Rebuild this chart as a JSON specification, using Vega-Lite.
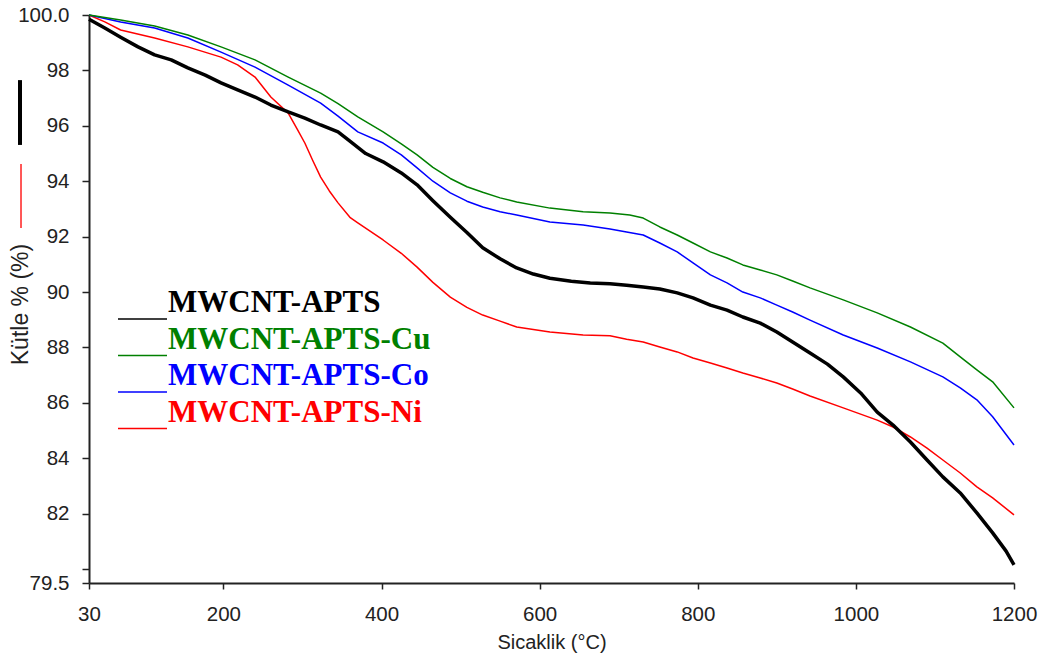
{
  "$schema": "https://vega.github.io/schema/vega-lite/v6.json",
  "width": 925,
  "height": 568,
  "autosize": "none",
  "padding": {"left": 89, "top": 15, "right": 29, "bottom": 76},
  "background": "white",
  "config": {"view": {"stroke": null}},
  "layer": [
    {
      "data": {"values": [
        {"T":30,"M":100.0,"s":"MWCNT-APTS-Ni"},{"T":50,"M":99.75,"s":"MWCNT-APTS-Ni"},{"T":70,"M":99.46,"s":"MWCNT-APTS-Ni"},{"T":113,"M":99.17,"s":"MWCNT-APTS-Ni"},{"T":155,"M":98.85,"s":"MWCNT-APTS-Ni"},{"T":197,"M":98.48,"s":"MWCNT-APTS-Ni"},{"T":218,"M":98.2,"s":"MWCNT-APTS-Ni"},{"T":240,"M":97.76,"s":"MWCNT-APTS-Ni"},{"T":260,"M":97.04,"s":"MWCNT-APTS-Ni"},{"T":282,"M":96.46,"s":"MWCNT-APTS-Ni"},{"T":293,"M":95.9,"s":"MWCNT-APTS-Ni"},{"T":303,"M":95.38,"s":"MWCNT-APTS-Ni"},{"T":313,"M":94.75,"s":"MWCNT-APTS-Ni"},{"T":323,"M":94.15,"s":"MWCNT-APTS-Ni"},{"T":334,"M":93.65,"s":"MWCNT-APTS-Ni"},{"T":345,"M":93.22,"s":"MWCNT-APTS-Ni"},{"T":360,"M":92.7,"s":"MWCNT-APTS-Ni"},{"T":370,"M":92.5,"s":"MWCNT-APTS-Ni"},{"T":402,"M":91.88,"s":"MWCNT-APTS-Ni"},{"T":425,"M":91.4,"s":"MWCNT-APTS-Ni"},{"T":445,"M":90.9,"s":"MWCNT-APTS-Ni"},{"T":465,"M":90.35,"s":"MWCNT-APTS-Ni"},{"T":487,"M":89.82,"s":"MWCNT-APTS-Ni"},{"T":508,"M":89.45,"s":"MWCNT-APTS-Ni"},{"T":528,"M":89.17,"s":"MWCNT-APTS-Ni"},{"T":550,"M":88.95,"s":"MWCNT-APTS-Ni"},{"T":571,"M":88.74,"s":"MWCNT-APTS-Ni"},{"T":613,"M":88.56,"s":"MWCNT-APTS-Ni"},{"T":655,"M":88.45,"s":"MWCNT-APTS-Ni"},{"T":689,"M":88.42,"s":"MWCNT-APTS-Ni"},{"T":710,"M":88.3,"s":"MWCNT-APTS-Ni"},{"T":731,"M":88.2,"s":"MWCNT-APTS-Ni"},{"T":752,"M":88.02,"s":"MWCNT-APTS-Ni"},{"T":774,"M":87.84,"s":"MWCNT-APTS-Ni"},{"T":794,"M":87.62,"s":"MWCNT-APTS-Ni"},{"T":816,"M":87.44,"s":"MWCNT-APTS-Ni"},{"T":837,"M":87.26,"s":"MWCNT-APTS-Ni"},{"T":857,"M":87.08,"s":"MWCNT-APTS-Ni"},{"T":879,"M":86.9,"s":"MWCNT-APTS-Ni"},{"T":900,"M":86.72,"s":"MWCNT-APTS-Ni"},{"T":920,"M":86.5,"s":"MWCNT-APTS-Ni"},{"T":942,"M":86.25,"s":"MWCNT-APTS-Ni"},{"T":984,"M":85.82,"s":"MWCNT-APTS-Ni"},{"T":1027,"M":85.38,"s":"MWCNT-APTS-Ni"},{"T":1047,"M":85.13,"s":"MWCNT-APTS-Ni"},{"T":1069,"M":84.77,"s":"MWCNT-APTS-Ni"},{"T":1090,"M":84.37,"s":"MWCNT-APTS-Ni"},{"T":1110,"M":83.94,"s":"MWCNT-APTS-Ni"},{"T":1132,"M":83.47,"s":"MWCNT-APTS-Ni"},{"T":1153,"M":82.97,"s":"MWCNT-APTS-Ni"},{"T":1173,"M":82.57,"s":"MWCNT-APTS-Ni"},{"T":1200,"M":81.96,"s":"MWCNT-APTS-Ni"},

        {"T":30,"M":100.0,"s":"MWCNT-APTS-Co"},{"T":70,"M":99.75,"s":"MWCNT-APTS-Co"},{"T":113,"M":99.53,"s":"MWCNT-APTS-Co"},{"T":155,"M":99.17,"s":"MWCNT-APTS-Co"},{"T":197,"M":98.66,"s":"MWCNT-APTS-Co"},{"T":240,"M":98.12,"s":"MWCNT-APTS-Co"},{"T":282,"M":97.47,"s":"MWCNT-APTS-Co"},{"T":323,"M":96.82,"s":"MWCNT-APTS-Co"},{"T":345,"M":96.35,"s":"MWCNT-APTS-Co"},{"T":370,"M":95.78,"s":"MWCNT-APTS-Co"},{"T":402,"M":95.38,"s":"MWCNT-APTS-Co"},{"T":425,"M":94.95,"s":"MWCNT-APTS-Co"},{"T":445,"M":94.48,"s":"MWCNT-APTS-Co"},{"T":465,"M":94.0,"s":"MWCNT-APTS-Co"},{"T":487,"M":93.58,"s":"MWCNT-APTS-Co"},{"T":508,"M":93.28,"s":"MWCNT-APTS-Co"},{"T":528,"M":93.07,"s":"MWCNT-APTS-Co"},{"T":550,"M":92.9,"s":"MWCNT-APTS-Co"},{"T":571,"M":92.78,"s":"MWCNT-APTS-Co"},{"T":613,"M":92.53,"s":"MWCNT-APTS-Co"},{"T":655,"M":92.42,"s":"MWCNT-APTS-Co"},{"T":689,"M":92.28,"s":"MWCNT-APTS-Co"},{"T":710,"M":92.17,"s":"MWCNT-APTS-Co"},{"T":731,"M":92.06,"s":"MWCNT-APTS-Co"},{"T":752,"M":91.77,"s":"MWCNT-APTS-Co"},{"T":774,"M":91.45,"s":"MWCNT-APTS-Co"},{"T":794,"M":91.05,"s":"MWCNT-APTS-Co"},{"T":816,"M":90.62,"s":"MWCNT-APTS-Co"},{"T":837,"M":90.33,"s":"MWCNT-APTS-Co"},{"T":857,"M":90.0,"s":"MWCNT-APTS-Co"},{"T":879,"M":89.79,"s":"MWCNT-APTS-Co"},{"T":900,"M":89.53,"s":"MWCNT-APTS-Co"},{"T":920,"M":89.28,"s":"MWCNT-APTS-Co"},{"T":942,"M":88.99,"s":"MWCNT-APTS-Co"},{"T":984,"M":88.45,"s":"MWCNT-APTS-Co"},{"T":1027,"M":87.98,"s":"MWCNT-APTS-Co"},{"T":1069,"M":87.48,"s":"MWCNT-APTS-Co"},{"T":1110,"M":86.94,"s":"MWCNT-APTS-Co"},{"T":1132,"M":86.54,"s":"MWCNT-APTS-Co"},{"T":1153,"M":86.11,"s":"MWCNT-APTS-Co"},{"T":1173,"M":85.5,"s":"MWCNT-APTS-Co"},{"T":1200,"M":84.48,"s":"MWCNT-APTS-Co"},

        {"T":30,"M":100.0,"s":"MWCNT-APTS-Cu"},{"T":70,"M":99.82,"s":"MWCNT-APTS-Cu"},{"T":113,"M":99.6,"s":"MWCNT-APTS-Cu"},{"T":155,"M":99.28,"s":"MWCNT-APTS-Cu"},{"T":197,"M":98.85,"s":"MWCNT-APTS-Cu"},{"T":240,"M":98.38,"s":"MWCNT-APTS-Cu"},{"T":282,"M":97.76,"s":"MWCNT-APTS-Cu"},{"T":323,"M":97.18,"s":"MWCNT-APTS-Cu"},{"T":345,"M":96.8,"s":"MWCNT-APTS-Cu"},{"T":370,"M":96.32,"s":"MWCNT-APTS-Cu"},{"T":402,"M":95.78,"s":"MWCNT-APTS-Cu"},{"T":425,"M":95.35,"s":"MWCNT-APTS-Cu"},{"T":445,"M":94.95,"s":"MWCNT-APTS-Cu"},{"T":465,"M":94.5,"s":"MWCNT-APTS-Cu"},{"T":487,"M":94.1,"s":"MWCNT-APTS-Cu"},{"T":508,"M":93.8,"s":"MWCNT-APTS-Cu"},{"T":528,"M":93.6,"s":"MWCNT-APTS-Cu"},{"T":550,"M":93.4,"s":"MWCNT-APTS-Cu"},{"T":571,"M":93.25,"s":"MWCNT-APTS-Cu"},{"T":613,"M":93.03,"s":"MWCNT-APTS-Cu"},{"T":655,"M":92.9,"s":"MWCNT-APTS-Cu"},{"T":689,"M":92.85,"s":"MWCNT-APTS-Cu"},{"T":714,"M":92.78,"s":"MWCNT-APTS-Cu"},{"T":731,"M":92.67,"s":"MWCNT-APTS-Cu"},{"T":752,"M":92.35,"s":"MWCNT-APTS-Cu"},{"T":774,"M":92.06,"s":"MWCNT-APTS-Cu"},{"T":794,"M":91.77,"s":"MWCNT-APTS-Cu"},{"T":816,"M":91.45,"s":"MWCNT-APTS-Cu"},{"T":837,"M":91.23,"s":"MWCNT-APTS-Cu"},{"T":857,"M":90.98,"s":"MWCNT-APTS-Cu"},{"T":879,"M":90.8,"s":"MWCNT-APTS-Cu"},{"T":900,"M":90.62,"s":"MWCNT-APTS-Cu"},{"T":920,"M":90.4,"s":"MWCNT-APTS-Cu"},{"T":942,"M":90.15,"s":"MWCNT-APTS-Cu"},{"T":984,"M":89.72,"s":"MWCNT-APTS-Cu"},{"T":1027,"M":89.25,"s":"MWCNT-APTS-Cu"},{"T":1069,"M":88.74,"s":"MWCNT-APTS-Cu"},{"T":1110,"M":88.16,"s":"MWCNT-APTS-Cu"},{"T":1132,"M":87.66,"s":"MWCNT-APTS-Cu"},{"T":1153,"M":87.19,"s":"MWCNT-APTS-Cu"},{"T":1173,"M":86.76,"s":"MWCNT-APTS-Cu"},{"T":1200,"M":85.82,"s":"MWCNT-APTS-Cu"},

        {"T":30,"M":99.85,"s":"MWCNT-APTS"},{"T":50,"M":99.53,"s":"MWCNT-APTS"},{"T":70,"M":99.2,"s":"MWCNT-APTS"},{"T":92,"M":98.85,"s":"MWCNT-APTS"},{"T":113,"M":98.56,"s":"MWCNT-APTS"},{"T":134,"M":98.38,"s":"MWCNT-APTS"},{"T":155,"M":98.09,"s":"MWCNT-APTS"},{"T":177,"M":97.83,"s":"MWCNT-APTS"},{"T":197,"M":97.55,"s":"MWCNT-APTS"},{"T":218,"M":97.3,"s":"MWCNT-APTS"},{"T":240,"M":97.04,"s":"MWCNT-APTS"},{"T":260,"M":96.75,"s":"MWCNT-APTS"},{"T":282,"M":96.5,"s":"MWCNT-APTS"},{"T":303,"M":96.28,"s":"MWCNT-APTS"},{"T":323,"M":96.03,"s":"MWCNT-APTS"},{"T":345,"M":95.78,"s":"MWCNT-APTS"},{"T":360,"M":95.45,"s":"MWCNT-APTS"},{"T":380,"M":95.0,"s":"MWCNT-APTS"},{"T":402,"M":94.7,"s":"MWCNT-APTS"},{"T":425,"M":94.3,"s":"MWCNT-APTS"},{"T":445,"M":93.87,"s":"MWCNT-APTS"},{"T":465,"M":93.3,"s":"MWCNT-APTS"},{"T":487,"M":92.7,"s":"MWCNT-APTS"},{"T":508,"M":92.15,"s":"MWCNT-APTS"},{"T":528,"M":91.6,"s":"MWCNT-APTS"},{"T":550,"M":91.2,"s":"MWCNT-APTS"},{"T":571,"M":90.87,"s":"MWCNT-APTS"},{"T":592,"M":90.65,"s":"MWCNT-APTS"},{"T":613,"M":90.5,"s":"MWCNT-APTS"},{"T":640,"M":90.39,"s":"MWCNT-APTS"},{"T":664,"M":90.33,"s":"MWCNT-APTS"},{"T":689,"M":90.3,"s":"MWCNT-APTS"},{"T":710,"M":90.25,"s":"MWCNT-APTS"},{"T":731,"M":90.18,"s":"MWCNT-APTS"},{"T":752,"M":90.11,"s":"MWCNT-APTS"},{"T":774,"M":89.97,"s":"MWCNT-APTS"},{"T":794,"M":89.79,"s":"MWCNT-APTS"},{"T":816,"M":89.53,"s":"MWCNT-APTS"},{"T":837,"M":89.35,"s":"MWCNT-APTS"},{"T":857,"M":89.1,"s":"MWCNT-APTS"},{"T":879,"M":88.88,"s":"MWCNT-APTS"},{"T":900,"M":88.56,"s":"MWCNT-APTS"},{"T":920,"M":88.2,"s":"MWCNT-APTS"},{"T":942,"M":87.8,"s":"MWCNT-APTS"},{"T":964,"M":87.4,"s":"MWCNT-APTS"},{"T":984,"M":86.94,"s":"MWCNT-APTS"},{"T":1006,"M":86.36,"s":"MWCNT-APTS"},{"T":1027,"M":85.67,"s":"MWCNT-APTS"},{"T":1047,"M":85.2,"s":"MWCNT-APTS"},{"T":1069,"M":84.59,"s":"MWCNT-APTS"},{"T":1090,"M":83.94,"s":"MWCNT-APTS"},{"T":1110,"M":83.33,"s":"MWCNT-APTS"},{"T":1132,"M":82.75,"s":"MWCNT-APTS"},{"T":1153,"M":82.03,"s":"MWCNT-APTS"},{"T":1173,"M":81.31,"s":"MWCNT-APTS"},{"T":1190,"M":80.65,"s":"MWCNT-APTS"},{"T":1200,"M":80.15,"s":"MWCNT-APTS"}
      ]},
      "mark": {"type": "line", "strokeJoin": "round"},
      "encoding": {
        "x": {
          "field": "T", "type": "quantitative",
          "scale": {"domain": [30, 1200], "nice": false, "zero": false},
          "axis": {
            "values": [30, 200, 400, 600, 800, 1000, 1200],
            "format": "d",
            "title": "Sicaklik (°C)",
            "grid": false,
            "tickSize": 6, "tickWidth": 1.5, "tickColor": "#222",
            "domainColor": "#222", "domainWidth": 2,
            "labelFont": "Liberation Sans", "labelFontSize": 20.5, "labelColor": "#222",
            "labelPadding": 15, "labelFlush": false, "labelOverlap": false,
            "titleFont": "Liberation Sans", "titleFontSize": 20, "titleFontWeight": "normal", "titleColor": "#222",
            "titleBaseline": "alphabetic", "titleY": 65
          }
        },
        "y": {
          "field": "M", "type": "quantitative",
          "scale": {"domain": [79.5, 100], "nice": false, "zero": false},
          "axis": {
            "values": [79.5, 80, 82, 84, 86, 88, 90, 92, 94, 96, 98, 100],
            "labelExpr": "datum.value == 100 ? '100.0' : datum.value == 80 ? '' : toString(datum.value)",
            "title": "Kütle % (%)",
            "grid": false,
            "tickSize": 7, "tickWidth": 1.5, "tickColor": "#222",
            "domainColor": "#222", "domainWidth": 2,
            "labelFont": "Liberation Sans", "labelFontSize": 20.5, "labelColor": "#222",
            "labelPadding": 13, "labelOverlap": false, "labelFlush": false,
            "titleFont": "Liberation Sans", "titleFontSize": 23, "titleFontWeight": "normal", "titleColor": "#222",
            "titleAngle": 270, "titleAlign": "center", "titleBaseline": "alphabetic", "titleX": -62, "titleY": 289
          }
        },
        "color": {
          "field": "s", "type": "nominal",
          "scale": {
            "domain": ["MWCNT-APTS", "MWCNT-APTS-Cu", "MWCNT-APTS-Co", "MWCNT-APTS-Ni"],
            "range": ["#000000", "#008000", "#0000ff", "#ff0000"]
          },
          "legend": {
            "orient": "none", "legendX": 28, "legendY": 278.5,
            "title": null, "direction": "vertical",
            "symbolType": "stroke", "symbolSize": 2401, "symbolStrokeWidth": 1.5, "symbolOffset": 0,
            "labelFont": "Liberation Serif", "labelFontWeight": "bold", "labelFontSize": 31,
            "labelOffset": 0, "labelBaseline": "bottom", "labelLimit": 0,
            "rowPadding": 0.5, "padding": 0,
            "encode": {"labels": {"update": {"fill": {"scale": "color", "field": "value"}}}}
          }
        },
        "strokeWidth": {"condition": {"test": "datum.s === 'MWCNT-APTS'", "value": 3.5}, "value": 1.5}
      }
    },
    {
      "data": {"values": [{}]},
      "mark": {"type": "rule", "color": "#000000", "strokeWidth": 4},
      "encoding": {
        "x": {"datum": -57.3, "type": "quantitative"},
        "y": {"datum": 97.65, "type": "quantitative"},
        "y2": {"datum": 95.31}
      }
    },
    {
      "data": {"values": [{}]},
      "mark": {"type": "rule", "color": "#ff2020", "strokeWidth": 1.5},
      "encoding": {
        "x": {"datum": -56, "type": "quantitative"},
        "y": {"datum": 94.62, "type": "quantitative"},
        "y2": {"datum": 92.31}
      }
    }
  ]
}
